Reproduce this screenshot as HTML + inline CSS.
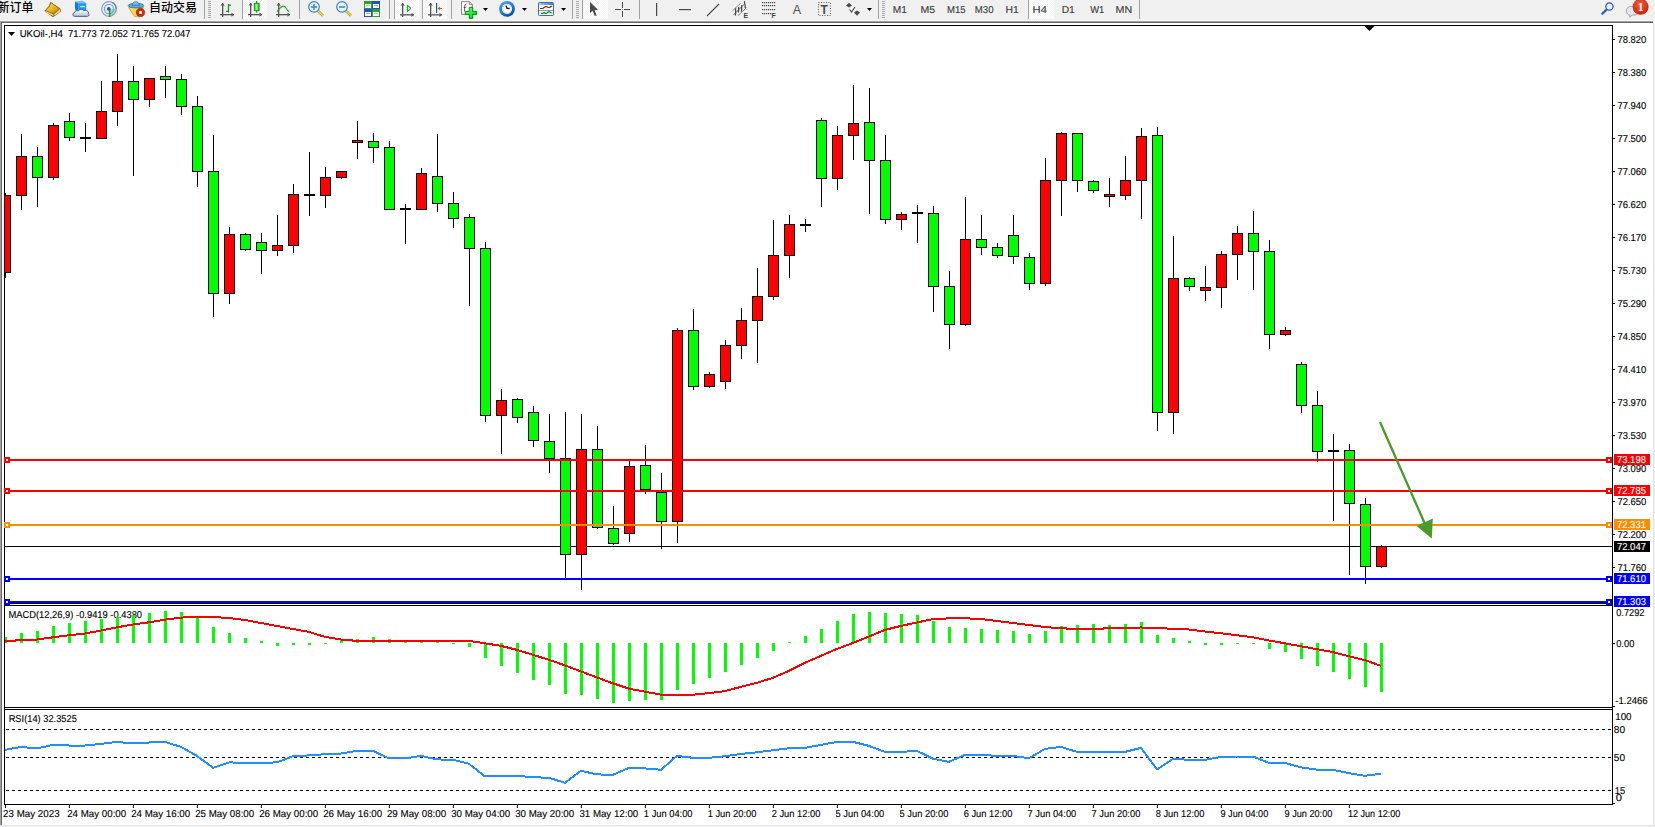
<!DOCTYPE html>
<html><head><meta charset="utf-8"><title>MT4 UKOil H4</title>
<style>
html,body{margin:0;padding:0;background:#F0F0F0;width:1655px;height:827px;overflow:hidden}
svg{display:block}
</style></head><body>
<svg width="1655" height="827" viewBox="0 0 1655 827">
<defs><pattern id="chk" width="2" height="2" patternUnits="userSpaceOnUse"><rect width="2" height="2" fill="#F4F4F4"/><rect width="1" height="1" fill="#FFFFFF"/><rect x="1" y="1" width="1" height="1" fill="#FFFFFF"/></pattern><linearGradient id="gold" x1="0" y1="0" x2="1" y2="1"><stop offset="0" stop-color="#FFE870"/><stop offset="0.5" stop-color="#E8B820"/><stop offset="1" stop-color="#B07810"/></linearGradient><linearGradient id="cgreen" x1="0" y1="0" x2="1" y2="0"><stop offset="0" stop-color="#30D030"/><stop offset="0.5" stop-color="#90FF90"/><stop offset="1" stop-color="#20B020"/></linearGradient><radialGradient id="badge" cx="0.45" cy="0.35" r="0.7"><stop offset="0" stop-color="#F06040"/><stop offset="1" stop-color="#D01800"/></radialGradient><radialGradient id="sig" cx="0.5" cy="0.5" r="0.5"><stop offset="0.2" stop-color="#2060D0"/><stop offset="1" stop-color="#60B060"/></radialGradient><linearGradient id="cloud" x1="0" y1="0" x2="0" y2="1"><stop offset="0" stop-color="#FFFFFF"/><stop offset="1" stop-color="#B8C4D8"/></linearGradient><linearGradient id="clockg" x1="0.2" y1="0" x2="0.8" y2="1"><stop offset="0" stop-color="#48A8F8"/><stop offset="1" stop-color="#0048A8"/></linearGradient><linearGradient id="tbar" x1="0" y1="0" x2="1" y2="0"><stop offset="0" stop-color="#9CCCF4"/><stop offset="1" stop-color="#3E7CC4"/></linearGradient><linearGradient id="plusg" x1="0" y1="0" x2="1" y2="1"><stop offset="0" stop-color="#90FF90"/><stop offset="0.6" stop-color="#10F030"/><stop offset="1" stop-color="#08C020"/></linearGradient></defs>
<rect x="243" y="0" width="24" height="19" fill="url(#chk)"/>
<rect x="395" y="0" width="24" height="19" fill="url(#chk)"/>
<rect x="423" y="0" width="24" height="19" fill="url(#chk)"/>
<rect x="583" y="0" width="25" height="19" fill="url(#chk)"/>
<rect x="1029" y="0" width="25" height="19" fill="url(#chk)"/>
<rect x="204" y="0" width="1" height="19" fill="#A0A0A0"/>
<rect x="242" y="0" width="1" height="19" fill="#A0A0A0"/>
<rect x="299" y="0" width="1" height="19" fill="#A0A0A0"/>
<rect x="389" y="0" width="1" height="19" fill="#A0A0A0"/>
<rect x="394" y="0" width="1" height="19" fill="#A0A0A0"/>
<rect x="422" y="0" width="1" height="19" fill="#A0A0A0"/>
<rect x="451" y="0" width="1" height="19" fill="#A0A0A0"/>
<rect x="572" y="0" width="1" height="19" fill="#A0A0A0"/>
<rect x="582" y="0" width="1" height="19" fill="#A0A0A0"/>
<rect x="639" y="0" width="1" height="19" fill="#A0A0A0"/>
<rect x="878" y="0" width="1" height="19" fill="#A0A0A0"/>
<rect x="1028" y="0" width="1" height="19" fill="#A0A0A0"/>
<rect x="1139" y="0" width="1" height="19" fill="#A0A0A0"/>
<rect x="208" y="1" width="3" height="1" fill="#A8A8A8"/>
<rect x="208" y="3" width="3" height="1" fill="#A8A8A8"/>
<rect x="208" y="5" width="3" height="1" fill="#A8A8A8"/>
<rect x="208" y="7" width="3" height="1" fill="#A8A8A8"/>
<rect x="208" y="9" width="3" height="1" fill="#A8A8A8"/>
<rect x="208" y="11" width="3" height="1" fill="#A8A8A8"/>
<rect x="208" y="13" width="3" height="1" fill="#A8A8A8"/>
<rect x="208" y="15" width="3" height="1" fill="#A8A8A8"/>
<rect x="208" y="17" width="3" height="1" fill="#A8A8A8"/>
<rect x="576" y="1" width="3" height="1" fill="#A8A8A8"/>
<rect x="576" y="3" width="3" height="1" fill="#A8A8A8"/>
<rect x="576" y="5" width="3" height="1" fill="#A8A8A8"/>
<rect x="576" y="7" width="3" height="1" fill="#A8A8A8"/>
<rect x="576" y="9" width="3" height="1" fill="#A8A8A8"/>
<rect x="576" y="11" width="3" height="1" fill="#A8A8A8"/>
<rect x="576" y="13" width="3" height="1" fill="#A8A8A8"/>
<rect x="576" y="15" width="3" height="1" fill="#A8A8A8"/>
<rect x="576" y="17" width="3" height="1" fill="#A8A8A8"/>
<rect x="882" y="1" width="3" height="1" fill="#A8A8A8"/>
<rect x="882" y="3" width="3" height="1" fill="#A8A8A8"/>
<rect x="882" y="5" width="3" height="1" fill="#A8A8A8"/>
<rect x="882" y="7" width="3" height="1" fill="#A8A8A8"/>
<rect x="882" y="9" width="3" height="1" fill="#A8A8A8"/>
<rect x="882" y="11" width="3" height="1" fill="#A8A8A8"/>
<rect x="882" y="13" width="3" height="1" fill="#A8A8A8"/>
<rect x="882" y="15" width="3" height="1" fill="#A8A8A8"/>
<rect x="882" y="17" width="3" height="1" fill="#A8A8A8"/>
<text x="-2.5" y="11.8" font-family="'Liberation Sans','Noto Sans CJK SC','WenQuanYi Zen Hei',sans-serif" font-size="12" font-weight="500" fill="#000">新订单</text>
<text x="149" y="11.8" font-family="'Liberation Sans','Noto Sans CJK SC','WenQuanYi Zen Hei',sans-serif" font-size="12" font-weight="500" fill="#000">自动交易</text>
<polygon points="50.5,1.8 60,8.3 61.5,11.2 53,17.2 44.3,11 48.8,6" fill="#9A6410"/>
<polygon points="51,3.2 59.2,8.8 53.6,13.6 46,10.3 49.8,6.4" fill="url(#gold)"/>
<polygon points="45.6,10.9 53.6,14.4 53.2,16 45.4,12" fill="#F0D890"/>
<polygon points="59.6,9.6 60.7,11.2 54.4,15.6 54.2,14.2" fill="#E8E0B0"/>
<polygon points="75,1.5 82.5,0.8 86.2,2.8 78.6,3.4" fill="#70C0FA"/>
<polygon points="75,1.5 78.6,3.4 78.6,11 75,9.6" fill="#1478D8"/>
<rect x="78.6" y="3.2" width="7.6" height="7.8" fill="#1C98F2"/>
<rect x="80.2" y="5.9" width="4.8" height="1.3" fill="#D8F0FF"/>
<path d="M74.6,16.3 C72.4,16.3 72.4,12.6 74.6,12.5 C74.8,10.6 77.2,10.1 78.3,11 C79.2,9 82.8,8.7 83.9,10.7 C86.2,9.6 89,11.3 88.4,13.6 C89.6,14.6 88.8,16.3 87.4,16.3 Z" fill="url(#cloud)" stroke="#3E5488" stroke-width="1"/>
<path d="M109,9 L116.6,9 A7.6,7.6 0 0 1 109,16.6 Z" fill="#A8DCA0" opacity="0.9"/>
<circle cx="109" cy="9" r="7.3" fill="none" stroke="#5A84D0" stroke-width="1.2" opacity="0.75"/>
<path d="M112.5,2.5 A7.3,7.3 0 0 1 116.3,9" fill="none" stroke="#3A7A8A" stroke-width="1.2" opacity="0.8"/>
<circle cx="109" cy="9" r="4.6" fill="none" stroke="#4E7CD0" stroke-width="1.2" opacity="0.7"/>
<circle cx="108.8" cy="8.9" r="1.9" fill="#2050C8"/>
<rect x="108.9" y="9" width="1.4" height="8" fill="#18A018"/>
<polygon points="128.6,7.4 143.6,7.4 138,16.6 134.6,16.6" fill="#F4DA50" stroke="#C8A020" stroke-width="0.8"/>
<ellipse cx="136" cy="5.6" rx="7.8" ry="2.3" fill="#5AAAE0" stroke="#2A7CA8" stroke-width="0.9"/>
<path d="M132.3,5.2 C132.3,0.6 139.3,0.6 139.3,5.2 Z" fill="#78C0F0" stroke="#2A7CA8" stroke-width="0.9"/>
<circle cx="140.5" cy="12.5" r="4.2" fill="#D82808" stroke="#A81000" stroke-width="0.6"/>
<rect x="139.1" y="11.2" width="2.9" height="2.7" fill="#FFFFFF"/>
<rect x="222" y="3" width="1.3" height="14" fill="#555"/>
<rect x="220" y="14" width="14" height="1.3" fill="#555"/>
<polygon points="220.5,5.5 222.65,3 224.8,5.5" fill="#555"/>
<polygon points="231.5,12.5 234,14.65 231.5,16.8" fill="#555"/>
<path d="M228.5,4 V12.6 M226,11.4 H228.5 M228.5,5.2 H231" stroke="#169016" stroke-width="1.2" fill="none"/>
<rect x="250" y="3" width="1.3" height="14" fill="#555"/>
<rect x="248" y="14" width="14" height="1.3" fill="#555"/>
<polygon points="248.5,5.5 250.65,3 252.8,5.5" fill="#555"/>
<polygon points="259.5,12.5 262,14.65 259.5,16.8" fill="#555"/>
<rect x="256" y="1" width="1.2" height="11.6" fill="#109010"/>
<rect x="254.3" y="3.3" width="4.8" height="7.4" fill="url(#cgreen)" stroke="#109010" stroke-width="0.9"/>
<rect x="278" y="3" width="1.3" height="14" fill="#555"/>
<rect x="276" y="14" width="14" height="1.3" fill="#555"/>
<polygon points="276.5,5.5 278.65,3 280.8,5.5" fill="#555"/>
<polygon points="287.5,12.5 290,14.65 287.5,16.8" fill="#555"/>
<path d="M277,11.6 Q283,3 286,8 T289,10.5" stroke="#2A9A2A" stroke-width="1.1" fill="none"/>
<line x1="317.5" y1="10.5" x2="323" y2="15.8" stroke="#B89010" stroke-width="2.6"/>
<line x1="317.5" y1="10.5" x2="323" y2="15.8" stroke="#F0E060" stroke-width="1.2"/>
<circle cx="314" cy="6.9" r="5.3" fill="#DDF2FF" stroke="#3A80D0" stroke-width="1.2"/>
<rect x="311" y="6.2" width="6" height="1.6" fill="#4A88B8"/>
<rect x="313.2" y="3.9" width="1.6" height="6" fill="#4A88B8"/>
<line x1="345.5" y1="10.5" x2="351" y2="15.8" stroke="#B89010" stroke-width="2.6"/>
<line x1="345.5" y1="10.5" x2="351" y2="15.8" stroke="#F0E060" stroke-width="1.2"/>
<circle cx="342" cy="6.9" r="5.3" fill="#DDF2FF" stroke="#3A80D0" stroke-width="1.2"/>
<rect x="339" y="6.2" width="6" height="1.6" fill="#4A88B8"/>
<rect x="364" y="1" width="8" height="8" fill="#30A020"/>
<rect x="365" y="4" width="6" height="4" fill="#FFFFFF"/>
<rect x="366" y="5" width="4" height="1" fill="#A0D090"/>
<rect x="372" y="1" width="8" height="8" fill="#2050D0"/>
<rect x="373" y="4" width="6" height="4" fill="#FFFFFF"/>
<rect x="374" y="5" width="4" height="1" fill="#90A8E0"/>
<rect x="364" y="9" width="8" height="8" fill="#2050D0"/>
<rect x="365" y="12" width="6" height="4" fill="#FFFFFF"/>
<rect x="366" y="13" width="4" height="1" fill="#90A8E0"/>
<rect x="372" y="9" width="8" height="8" fill="#30A020"/>
<rect x="373" y="12" width="6" height="4" fill="#FFFFFF"/>
<rect x="374" y="13" width="4" height="1" fill="#A0D090"/>
<rect x="402" y="3" width="1.3" height="14" fill="#555"/>
<rect x="400" y="14.2" width="14" height="1.3" fill="#555"/>
<polygon points="400.5,5.5 402.65,3 404.8,5.5" fill="#555"/>
<polygon points="411.5,12.7 414,14.85 411.5,17.0" fill="#555"/>
<polygon points="407.3,5.2 411,8.4 407.3,11.6" fill="#B0F0B0" stroke="#139013" stroke-width="1"/>
<rect x="430" y="3" width="1.3" height="14" fill="#555"/>
<rect x="428" y="14.2" width="14" height="1.3" fill="#555"/>
<polygon points="428.5,5.5 430.65,3 432.8,5.5" fill="#555"/>
<polygon points="439.5,12.7 442,14.85 439.5,17.0" fill="#555"/>
<rect x="436" y="3" width="1.2" height="10" fill="#1060A0"/>
<polygon points="437.6,8.4 440,6.5 440,7.9 442,7.9 442,8.9 440,8.9 440,10.3" fill="#E05010"/>
<path d="M461.6,1.7 H469.6 L472.3,4.4 V14.3 H461.6 Z" fill="#FFFFFF" stroke="#808080" stroke-width="1"/>
<path d="M469.3,1.7 V4.6 H472.3" fill="#E0E0E0" stroke="#707070" stroke-width="0.8"/>
<path d="M466.6,4 Q464.6,3.8 464.6,6.5 V11.5 M463.6,7.3 H466.2" stroke="#3A3420" stroke-width="0.8" fill="none"/>
<path d="M469.3,7.4 H472.7 V11.4 H476.7 V14.4 H472.7 V18.4 H469.3 V14.4 H465.3 V11.4 H469.3 Z" fill="url(#plusg)" stroke="#0A880A" stroke-width="1"/>
<polygon points="483,8 488,8 485.5,11" fill="#000"/>
<circle cx="507" cy="8.85" r="7.9" fill="url(#clockg)"/>
<circle cx="507" cy="8.85" r="5.1" fill="#FFFFFF"/>
<rect x="506.60" y="4.25" width="0.8" height="0.8" fill="#909090"/>
<rect x="508.70" y="4.81" width="0.8" height="0.8" fill="#909090"/>
<rect x="510.24" y="6.35" width="0.8" height="0.8" fill="#909090"/>
<rect x="510.80" y="8.45" width="0.8" height="0.8" fill="#909090"/>
<rect x="510.24" y="10.55" width="0.8" height="0.8" fill="#909090"/>
<rect x="508.70" y="12.09" width="0.8" height="0.8" fill="#909090"/>
<rect x="506.60" y="12.65" width="0.8" height="0.8" fill="#909090"/>
<rect x="504.50" y="12.09" width="0.8" height="0.8" fill="#909090"/>
<rect x="502.96" y="10.55" width="0.8" height="0.8" fill="#909090"/>
<rect x="502.40" y="8.45" width="0.8" height="0.8" fill="#909090"/>
<rect x="502.96" y="6.35" width="0.8" height="0.8" fill="#909090"/>
<rect x="504.50" y="4.81" width="0.8" height="0.8" fill="#909090"/>
<path d="M505.9,5.6 L507.1,8.4 L509.6,8.5" stroke="#000" stroke-width="1.3" fill="none"/>
<polygon points="522,8 527,8 524.5,11" fill="#000"/>
<rect x="538.5" y="2.5" width="15" height="13" rx="0.8" fill="#FFFFFF" stroke="#3472B8" stroke-width="1"/>
<rect x="539" y="3" width="14" height="2" fill="url(#tbar)"/>
<rect x="539" y="10" width="14" height="0.9" fill="#7A98B8"/>
<polyline points="540.1,8.5 542.8,8.5 544,7.5 546,6.4 548.6,7.5 549.7,7.5 551.1,6.4 552.2,6.4" stroke="#9A1800" stroke-width="1.2" fill="none"/>
<polyline points="541,13.4 543,13.4 544.3,12.4 545.6,13.4 546.6,13.4 547.6,12.4 549,11.4 550.6,12.4 551.6,13.4" stroke="#108010" stroke-width="1.2" fill="none"/>
<polygon points="561,8 566,8 563.5,11" fill="#000"/>
<polygon points="590,2 590,13 592.6,10.8 594.8,16 596.6,15.2 594.5,10.2 598,9.8" fill="#4A4A4A"/>
<rect x="622" y="2" width="1" height="6" fill="#4A4A4A"/><rect x="622" y="11" width="1" height="6" fill="#4A4A4A"/>
<rect x="615" y="9" width="6" height="1" fill="#4A4A4A"/><rect x="624" y="9" width="6" height="1" fill="#4A4A4A"/>
<rect x="622" y="9" width="1" height="1" fill="#888"/>
<rect x="656" y="3" width="1.2" height="13" fill="#4A4A4A"/>
<rect x="679" y="9" width="12" height="1.2" fill="#4A4A4A"/>
<line x1="707" y1="16" x2="719" y2="4" stroke="#4A4A4A" stroke-width="1.1"/>
<g stroke="#454545" fill="none">
<line x1="732.7" y1="10.6" x2="740.7" y2="3.2" stroke-width="0.9" stroke-dasharray="1.2,0.5"/>
<line x1="737.9" y1="15.7" x2="746.9" y2="7.3" stroke-width="0.9" stroke-dasharray="1.2,0.5"/>
<line x1="733.5" y1="14.8" x2="744" y2="4.5" stroke-width="0.8"/>
<path d="M735.8,8.3 C735.2,11 736.2,12.5 735.3,15.5 M738.8,7 C738.2,9 739.2,10.5 738.2,12.6 M741.8,5.2 C741.2,7.5 742.2,9.5 741.3,11.8 M744.5,1.2 C744.2,3.5 745.6,5.5 745.2,8.2" stroke-width="1.2"/>
</g>
<text x="743.6" y="18.2" font-family="'Liberation Sans',sans-serif" font-size="7" font-weight="bold" fill="#404040">E</text>
<rect x="762" y="2" width="1.2" height="1.2" fill="#404040"/>
<rect x="764" y="2" width="1.2" height="1.2" fill="#404040"/>
<rect x="766" y="2" width="1.2" height="1.2" fill="#404040"/>
<rect x="768" y="2" width="1.2" height="1.2" fill="#404040"/>
<rect x="770" y="2" width="1.2" height="1.2" fill="#404040"/>
<rect x="772" y="2" width="1.2" height="1.2" fill="#404040"/>
<rect x="774" y="2" width="1.2" height="1.2" fill="#404040"/>
<rect x="762" y="5" width="1.2" height="1.2" fill="#404040"/>
<rect x="764" y="5" width="1.2" height="1.2" fill="#404040"/>
<rect x="766" y="5" width="1.2" height="1.2" fill="#404040"/>
<rect x="768" y="5" width="1.2" height="1.2" fill="#404040"/>
<rect x="770" y="5" width="1.2" height="1.2" fill="#404040"/>
<rect x="772" y="5" width="1.2" height="1.2" fill="#404040"/>
<rect x="774" y="5" width="1.2" height="1.2" fill="#404040"/>
<rect x="762" y="9" width="1.2" height="1.2" fill="#404040"/>
<rect x="764" y="9" width="1.2" height="1.2" fill="#404040"/>
<rect x="766" y="9" width="1.2" height="1.2" fill="#404040"/>
<rect x="768" y="9" width="1.2" height="1.2" fill="#404040"/>
<rect x="770" y="9" width="1.2" height="1.2" fill="#404040"/>
<rect x="772" y="9" width="1.2" height="1.2" fill="#404040"/>
<rect x="774" y="9" width="1.2" height="1.2" fill="#404040"/>
<rect x="762" y="13" width="1.2" height="1.2" fill="#404040"/>
<rect x="764" y="13" width="1.2" height="1.2" fill="#404040"/>
<rect x="766" y="13" width="1.2" height="1.2" fill="#404040"/>
<rect x="768" y="13" width="1.2" height="1.2" fill="#404040"/>
<rect x="770" y="13" width="1.2" height="1.2" fill="#404040"/>
<text x="771.6" y="18.2" font-family="'Liberation Sans',sans-serif" font-size="7" font-weight="bold" fill="#404040">F</text>
<text x="792.8" y="14" font-family="'Liberation Sans',sans-serif" font-size="12.5" fill="#505050">A</text>
<rect x="818.5" y="2.5" width="12" height="13" fill="none" stroke="#4A4A4A" stroke-width="0.9" stroke-dasharray="1,1.5"/>
<text x="820.5" y="13.8" font-family="'Liberation Sans',sans-serif" font-size="12" font-weight="bold" fill="#4A4A4A">T</text>
<polygon points="846,5.5 849,2.8 852,5.5 849,7.5" fill="#4A4A4A"/>
<polygon points="854,12.5 857,10.5 860,12.5 857,15.8" fill="#4A4A4A"/>
<polyline points="849.5,9.5 851.5,12 855,7" stroke="#4A4A4A" stroke-width="1.1" fill="none"/>
<polygon points="867,8 872,8 869.5,11" fill="#000"/>
<line x1="1606.5" y1="9.8" x2="1602.3" y2="13.8" stroke="#2058C8" stroke-width="2.2" stroke-linecap="round"/>
<circle cx="1609.4" cy="6.5" r="3.6" fill="#F4F6FF" stroke="#2060D0" stroke-width="1.3"/>
<path d="M1631,6.3 C1625,6.3 1625,15 1630,15 L1629.5,17.3 L1632.5,15 L1635,15 C1640,15 1640,6.3 1635,6.3 Z" fill="#E4E6EE" stroke="#A0A0A0" stroke-width="0.9"/>
<circle cx="1640.6" cy="6.8" r="8" fill="url(#badge)"/>
<text x="1640.5" y="11" font-family="'Liberation Serif',serif" font-size="11.5" font-weight="bold" fill="#FFFFFF" text-anchor="middle">1</text>
<rect x="0" y="20" width="1655" height="1" fill="#F8F8F8"/>
<rect x="0" y="21" width="1653" height="1" fill="#A0A0A0"/>
<rect x="0" y="22" width="1653" height="1" fill="#696969"/>
<rect x="0" y="21" width="1" height="805" fill="#A0A0A0"/>
<rect x="1" y="22" width="1" height="804" fill="#696969"/>
<rect x="2" y="23" width="1651" height="802" fill="#FFFFFF"/>
<rect x="1653" y="21" width="1" height="805" fill="#E3E3E3"/>
<rect x="0" y="825" width="1654" height="1" fill="#E3E3E3"/>
<g shape-rendering="crispEdges">
<rect x="4" y="25" width="1" height="780" fill="#000"/>
<rect x="1612" y="25" width="1" height="780" fill="#000"/>
<rect x="4" y="25" width="1609" height="1" fill="#000"/>
<rect x="4" y="603" width="1609" height="1" fill="#000"/>
<rect x="4" y="605" width="1609" height="1" fill="#000"/>
<rect x="4" y="707" width="1609" height="1" fill="#000"/>
<rect x="4" y="709" width="1609" height="1" fill="#000"/>
<rect x="4" y="804" width="1609" height="1" fill="#000"/>
<rect x="1613" y="39" width="2" height="1" fill="#000"/>
<rect x="1613" y="72" width="2" height="1" fill="#000"/>
<rect x="1613" y="105" width="2" height="1" fill="#000"/>
<rect x="1613" y="138" width="2" height="1" fill="#000"/>
<rect x="1613" y="171" width="2" height="1" fill="#000"/>
<rect x="1613" y="204" width="2" height="1" fill="#000"/>
<rect x="1613" y="237" width="2" height="1" fill="#000"/>
<rect x="1613" y="270" width="2" height="1" fill="#000"/>
<rect x="1613" y="303" width="2" height="1" fill="#000"/>
<rect x="1613" y="336" width="2" height="1" fill="#000"/>
<rect x="1613" y="369" width="2" height="1" fill="#000"/>
<rect x="1613" y="402" width="2" height="1" fill="#000"/>
<rect x="1613" y="435" width="2" height="1" fill="#000"/>
<rect x="1613" y="468" width="2" height="1" fill="#000"/>
<rect x="1613" y="501" width="2" height="1" fill="#000"/>
<rect x="1613" y="534" width="2" height="1" fill="#000"/>
<rect x="1613" y="567" width="2" height="1" fill="#000"/>
<rect x="1613" y="643" width="2" height="1" fill="#000"/>
<rect x="1613" y="706" width="2" height="1" fill="#000"/>
<rect x="1613" y="803" width="2" height="1" fill="#000"/>
<rect x="5" y="805" width="1" height="3" fill="#000"/>
<rect x="69" y="805" width="1" height="3" fill="#000"/>
<rect x="133" y="805" width="1" height="3" fill="#000"/>
<rect x="197" y="805" width="1" height="3" fill="#000"/>
<rect x="261" y="805" width="1" height="3" fill="#000"/>
<rect x="325" y="805" width="1" height="3" fill="#000"/>
<rect x="389" y="805" width="1" height="3" fill="#000"/>
<rect x="453" y="805" width="1" height="3" fill="#000"/>
<rect x="517" y="805" width="1" height="3" fill="#000"/>
<rect x="581" y="805" width="1" height="3" fill="#000"/>
<rect x="645" y="805" width="1" height="3" fill="#000"/>
<rect x="709" y="805" width="1" height="3" fill="#000"/>
<rect x="773" y="805" width="1" height="3" fill="#000"/>
<rect x="837" y="805" width="1" height="3" fill="#000"/>
<rect x="901" y="805" width="1" height="3" fill="#000"/>
<rect x="965" y="805" width="1" height="3" fill="#000"/>
<rect x="1029" y="805" width="1" height="3" fill="#000"/>
<rect x="1093" y="805" width="1" height="3" fill="#000"/>
<rect x="1157" y="805" width="1" height="3" fill="#000"/>
<rect x="1221" y="805" width="1" height="3" fill="#000"/>
<rect x="1285" y="805" width="1" height="3" fill="#000"/>
<rect x="1349" y="805" width="1" height="3" fill="#000"/>
</g>
<defs><clipPath id="cm"><rect x="5" y="26" width="1607" height="577"/></clipPath><clipPath id="cmacd"><rect x="5" y="606" width="1607" height="101"/></clipPath><clipPath id="crsi"><rect x="5" y="710" width="1607" height="94"/></clipPath></defs>
<g clip-path="url(#cm)" shape-rendering="crispEdges">
<rect x="5" y="546" width="1607" height="1" fill="#000"/>
<rect x="5" y="193" width="1" height="85" fill="#000"/>
<rect x="0" y="195" width="11" height="78" fill="#000"/>
<rect x="1" y="196" width="9" height="76" fill="#FF0000"/>
<rect x="21" y="134" width="1" height="76" fill="#000"/>
<rect x="16" y="156" width="11" height="40" fill="#000"/>
<rect x="17" y="157" width="9" height="38" fill="#FF0000"/>
<rect x="37" y="147" width="1" height="60" fill="#000"/>
<rect x="32" y="156" width="11" height="22" fill="#000"/>
<rect x="33" y="157" width="9" height="20" fill="#00FF00"/>
<rect x="53" y="123" width="1" height="57" fill="#000"/>
<rect x="48" y="125" width="11" height="53" fill="#000"/>
<rect x="49" y="126" width="9" height="51" fill="#FF0000"/>
<rect x="69" y="113" width="1" height="28" fill="#000"/>
<rect x="64" y="121" width="11" height="17" fill="#000"/>
<rect x="65" y="122" width="9" height="15" fill="#00FF00"/>
<rect x="85" y="123" width="1" height="29" fill="#000"/>
<rect x="80" y="137" width="11" height="2" fill="#000"/>
<rect x="101" y="81" width="1" height="58" fill="#000"/>
<rect x="96" y="111" width="11" height="28" fill="#000"/>
<rect x="97" y="112" width="9" height="26" fill="#FF0000"/>
<rect x="117" y="54" width="1" height="72" fill="#000"/>
<rect x="112" y="81" width="11" height="31" fill="#000"/>
<rect x="113" y="82" width="9" height="29" fill="#FF0000"/>
<rect x="133" y="66" width="1" height="110" fill="#000"/>
<rect x="128" y="81" width="11" height="19" fill="#000"/>
<rect x="129" y="82" width="9" height="17" fill="#00FF00"/>
<rect x="149" y="78" width="1" height="29" fill="#000"/>
<rect x="144" y="78" width="11" height="22" fill="#000"/>
<rect x="145" y="79" width="9" height="20" fill="#FF0000"/>
<rect x="165" y="66" width="1" height="32" fill="#000"/>
<rect x="160" y="76" width="11" height="4" fill="#000"/>
<rect x="161" y="77" width="9" height="2" fill="#00FF00"/>
<rect x="181" y="74" width="1" height="41" fill="#000"/>
<rect x="176" y="79" width="11" height="28" fill="#000"/>
<rect x="177" y="80" width="9" height="26" fill="#00FF00"/>
<rect x="197" y="96" width="1" height="91" fill="#000"/>
<rect x="192" y="106" width="11" height="66" fill="#000"/>
<rect x="193" y="107" width="9" height="64" fill="#00FF00"/>
<rect x="213" y="135" width="1" height="182" fill="#000"/>
<rect x="208" y="171" width="11" height="123" fill="#000"/>
<rect x="209" y="172" width="9" height="121" fill="#00FF00"/>
<rect x="229" y="227" width="1" height="77" fill="#000"/>
<rect x="224" y="234" width="11" height="60" fill="#000"/>
<rect x="225" y="235" width="9" height="58" fill="#FF0000"/>
<rect x="245" y="233" width="1" height="18" fill="#000"/>
<rect x="240" y="234" width="11" height="16" fill="#000"/>
<rect x="241" y="235" width="9" height="14" fill="#00FF00"/>
<rect x="261" y="233" width="1" height="41" fill="#000"/>
<rect x="256" y="242" width="11" height="9" fill="#000"/>
<rect x="257" y="243" width="9" height="7" fill="#00FF00"/>
<rect x="277" y="215" width="1" height="41" fill="#000"/>
<rect x="272" y="245" width="11" height="6" fill="#000"/>
<rect x="273" y="246" width="9" height="4" fill="#FF0000"/>
<rect x="293" y="184" width="1" height="69" fill="#000"/>
<rect x="288" y="194" width="11" height="52" fill="#000"/>
<rect x="289" y="195" width="9" height="50" fill="#FF0000"/>
<rect x="309" y="152" width="1" height="64" fill="#000"/>
<rect x="304" y="194" width="11" height="2" fill="#000"/>
<rect x="325" y="167" width="1" height="41" fill="#000"/>
<rect x="320" y="177" width="11" height="19" fill="#000"/>
<rect x="321" y="178" width="9" height="17" fill="#FF0000"/>
<rect x="341" y="171" width="1" height="8" fill="#000"/>
<rect x="336" y="171" width="11" height="7" fill="#000"/>
<rect x="337" y="172" width="9" height="5" fill="#FF0000"/>
<rect x="357" y="121" width="1" height="38" fill="#000"/>
<rect x="352" y="140" width="11" height="3" fill="#000"/>
<rect x="353" y="141" width="9" height="1" fill="#FF0000"/>
<rect x="373" y="133" width="1" height="30" fill="#000"/>
<rect x="368" y="141" width="11" height="7" fill="#000"/>
<rect x="369" y="142" width="9" height="5" fill="#00FF00"/>
<rect x="389" y="141" width="1" height="69" fill="#000"/>
<rect x="384" y="147" width="11" height="63" fill="#000"/>
<rect x="385" y="148" width="9" height="61" fill="#00FF00"/>
<rect x="405" y="204" width="1" height="40" fill="#000"/>
<rect x="400" y="208" width="11" height="2" fill="#000"/>
<rect x="421" y="168" width="1" height="42" fill="#000"/>
<rect x="416" y="173" width="11" height="37" fill="#000"/>
<rect x="417" y="174" width="9" height="35" fill="#FF0000"/>
<rect x="437" y="134" width="1" height="78" fill="#000"/>
<rect x="432" y="176" width="11" height="28" fill="#000"/>
<rect x="433" y="177" width="9" height="26" fill="#00FF00"/>
<rect x="453" y="192" width="1" height="36" fill="#000"/>
<rect x="448" y="203" width="11" height="16" fill="#000"/>
<rect x="449" y="204" width="9" height="14" fill="#00FF00"/>
<rect x="469" y="214" width="1" height="92" fill="#000"/>
<rect x="464" y="217" width="11" height="32" fill="#000"/>
<rect x="465" y="218" width="9" height="30" fill="#00FF00"/>
<rect x="485" y="242" width="1" height="180" fill="#000"/>
<rect x="480" y="248" width="11" height="168" fill="#000"/>
<rect x="481" y="249" width="9" height="166" fill="#00FF00"/>
<rect x="501" y="389" width="1" height="65" fill="#000"/>
<rect x="496" y="400" width="11" height="16" fill="#000"/>
<rect x="497" y="401" width="9" height="14" fill="#FF0000"/>
<rect x="517" y="398" width="1" height="25" fill="#000"/>
<rect x="512" y="399" width="11" height="19" fill="#000"/>
<rect x="513" y="400" width="9" height="17" fill="#00FF00"/>
<rect x="533" y="406" width="1" height="41" fill="#000"/>
<rect x="528" y="412" width="11" height="29" fill="#000"/>
<rect x="529" y="413" width="9" height="27" fill="#00FF00"/>
<rect x="549" y="414" width="1" height="59" fill="#000"/>
<rect x="544" y="441" width="11" height="18" fill="#000"/>
<rect x="545" y="442" width="9" height="16" fill="#00FF00"/>
<rect x="565" y="412" width="1" height="166" fill="#000"/>
<rect x="560" y="458" width="11" height="97" fill="#000"/>
<rect x="561" y="459" width="9" height="95" fill="#00FF00"/>
<rect x="581" y="414" width="1" height="176" fill="#000"/>
<rect x="576" y="449" width="11" height="106" fill="#000"/>
<rect x="577" y="450" width="9" height="104" fill="#FF0000"/>
<rect x="597" y="426" width="1" height="103" fill="#000"/>
<rect x="592" y="449" width="11" height="79" fill="#000"/>
<rect x="593" y="450" width="9" height="77" fill="#00FF00"/>
<rect x="613" y="506" width="1" height="39" fill="#000"/>
<rect x="608" y="528" width="11" height="16" fill="#000"/>
<rect x="609" y="529" width="9" height="14" fill="#00FF00"/>
<rect x="629" y="461" width="1" height="81" fill="#000"/>
<rect x="624" y="466" width="11" height="68" fill="#000"/>
<rect x="625" y="467" width="9" height="66" fill="#FF0000"/>
<rect x="645" y="445" width="1" height="49" fill="#000"/>
<rect x="640" y="465" width="11" height="25" fill="#000"/>
<rect x="641" y="466" width="9" height="23" fill="#00FF00"/>
<rect x="661" y="473" width="1" height="76" fill="#000"/>
<rect x="656" y="492" width="11" height="30" fill="#000"/>
<rect x="657" y="493" width="9" height="28" fill="#00FF00"/>
<rect x="677" y="328" width="1" height="215" fill="#000"/>
<rect x="672" y="330" width="11" height="192" fill="#000"/>
<rect x="673" y="331" width="9" height="190" fill="#FF0000"/>
<rect x="693" y="309" width="1" height="81" fill="#000"/>
<rect x="688" y="330" width="11" height="57" fill="#000"/>
<rect x="689" y="331" width="9" height="55" fill="#00FF00"/>
<rect x="709" y="372" width="1" height="16" fill="#000"/>
<rect x="704" y="374" width="11" height="13" fill="#000"/>
<rect x="705" y="375" width="9" height="11" fill="#FF0000"/>
<rect x="725" y="340" width="1" height="49" fill="#000"/>
<rect x="720" y="345" width="11" height="37" fill="#000"/>
<rect x="721" y="346" width="9" height="35" fill="#FF0000"/>
<rect x="741" y="308" width="1" height="51" fill="#000"/>
<rect x="736" y="320" width="11" height="26" fill="#000"/>
<rect x="737" y="321" width="9" height="24" fill="#FF0000"/>
<rect x="757" y="268" width="1" height="95" fill="#000"/>
<rect x="752" y="296" width="11" height="25" fill="#000"/>
<rect x="753" y="297" width="9" height="23" fill="#FF0000"/>
<rect x="773" y="220" width="1" height="80" fill="#000"/>
<rect x="768" y="255" width="11" height="42" fill="#000"/>
<rect x="769" y="256" width="9" height="40" fill="#FF0000"/>
<rect x="789" y="215" width="1" height="63" fill="#000"/>
<rect x="784" y="224" width="11" height="32" fill="#000"/>
<rect x="785" y="225" width="9" height="30" fill="#FF0000"/>
<rect x="805" y="219" width="1" height="13" fill="#000"/>
<rect x="800" y="224" width="11" height="2" fill="#000"/>
<rect x="821" y="118" width="1" height="89" fill="#000"/>
<rect x="816" y="120" width="11" height="59" fill="#000"/>
<rect x="817" y="121" width="9" height="57" fill="#00FF00"/>
<rect x="837" y="126" width="1" height="64" fill="#000"/>
<rect x="832" y="135" width="11" height="44" fill="#000"/>
<rect x="833" y="136" width="9" height="42" fill="#FF0000"/>
<rect x="853" y="85" width="1" height="75" fill="#000"/>
<rect x="848" y="123" width="11" height="13" fill="#000"/>
<rect x="849" y="124" width="9" height="11" fill="#FF0000"/>
<rect x="869" y="88" width="1" height="126" fill="#000"/>
<rect x="864" y="122" width="11" height="39" fill="#000"/>
<rect x="865" y="123" width="9" height="37" fill="#00FF00"/>
<rect x="885" y="135" width="1" height="89" fill="#000"/>
<rect x="880" y="160" width="11" height="60" fill="#000"/>
<rect x="881" y="161" width="9" height="58" fill="#00FF00"/>
<rect x="901" y="212" width="1" height="18" fill="#000"/>
<rect x="896" y="214" width="11" height="6" fill="#000"/>
<rect x="897" y="215" width="9" height="4" fill="#FF0000"/>
<rect x="917" y="205" width="1" height="38" fill="#000"/>
<rect x="912" y="212" width="11" height="2" fill="#000"/>
<rect x="933" y="206" width="1" height="106" fill="#000"/>
<rect x="928" y="213" width="11" height="74" fill="#000"/>
<rect x="929" y="214" width="9" height="72" fill="#00FF00"/>
<rect x="949" y="271" width="1" height="78" fill="#000"/>
<rect x="944" y="286" width="11" height="39" fill="#000"/>
<rect x="945" y="287" width="9" height="37" fill="#00FF00"/>
<rect x="965" y="197" width="1" height="129" fill="#000"/>
<rect x="960" y="239" width="11" height="86" fill="#000"/>
<rect x="961" y="240" width="9" height="84" fill="#FF0000"/>
<rect x="981" y="215" width="1" height="40" fill="#000"/>
<rect x="976" y="239" width="11" height="9" fill="#000"/>
<rect x="977" y="240" width="9" height="7" fill="#00FF00"/>
<rect x="997" y="243" width="1" height="15" fill="#000"/>
<rect x="992" y="247" width="11" height="9" fill="#000"/>
<rect x="993" y="248" width="9" height="7" fill="#00FF00"/>
<rect x="1013" y="215" width="1" height="49" fill="#000"/>
<rect x="1008" y="235" width="11" height="22" fill="#000"/>
<rect x="1009" y="236" width="9" height="20" fill="#00FF00"/>
<rect x="1029" y="253" width="1" height="37" fill="#000"/>
<rect x="1024" y="257" width="11" height="27" fill="#000"/>
<rect x="1025" y="258" width="9" height="25" fill="#00FF00"/>
<rect x="1045" y="158" width="1" height="128" fill="#000"/>
<rect x="1040" y="180" width="11" height="104" fill="#000"/>
<rect x="1041" y="181" width="9" height="102" fill="#FF0000"/>
<rect x="1061" y="132" width="1" height="84" fill="#000"/>
<rect x="1056" y="133" width="11" height="48" fill="#000"/>
<rect x="1057" y="134" width="9" height="46" fill="#FF0000"/>
<rect x="1077" y="133" width="1" height="59" fill="#000"/>
<rect x="1072" y="133" width="11" height="48" fill="#000"/>
<rect x="1073" y="134" width="9" height="46" fill="#00FF00"/>
<rect x="1093" y="180" width="1" height="13" fill="#000"/>
<rect x="1088" y="181" width="11" height="10" fill="#000"/>
<rect x="1089" y="182" width="9" height="8" fill="#00FF00"/>
<rect x="1109" y="178" width="1" height="29" fill="#000"/>
<rect x="1104" y="194" width="11" height="3" fill="#000"/>
<rect x="1105" y="195" width="9" height="1" fill="#FF0000"/>
<rect x="1125" y="156" width="1" height="44" fill="#000"/>
<rect x="1120" y="180" width="11" height="16" fill="#000"/>
<rect x="1121" y="181" width="9" height="14" fill="#FF0000"/>
<rect x="1141" y="128" width="1" height="91" fill="#000"/>
<rect x="1136" y="136" width="11" height="45" fill="#000"/>
<rect x="1137" y="137" width="9" height="43" fill="#FF0000"/>
<rect x="1157" y="127" width="1" height="304" fill="#000"/>
<rect x="1152" y="135" width="11" height="278" fill="#000"/>
<rect x="1153" y="136" width="9" height="276" fill="#00FF00"/>
<rect x="1173" y="236" width="1" height="198" fill="#000"/>
<rect x="1168" y="278" width="11" height="135" fill="#000"/>
<rect x="1169" y="279" width="9" height="133" fill="#FF0000"/>
<rect x="1189" y="277" width="1" height="14" fill="#000"/>
<rect x="1184" y="278" width="11" height="9" fill="#000"/>
<rect x="1185" y="279" width="9" height="7" fill="#00FF00"/>
<rect x="1205" y="266" width="1" height="35" fill="#000"/>
<rect x="1200" y="287" width="11" height="4" fill="#000"/>
<rect x="1201" y="288" width="9" height="2" fill="#FF0000"/>
<rect x="1221" y="251" width="1" height="57" fill="#000"/>
<rect x="1216" y="254" width="11" height="34" fill="#000"/>
<rect x="1217" y="255" width="9" height="32" fill="#FF0000"/>
<rect x="1237" y="226" width="1" height="54" fill="#000"/>
<rect x="1232" y="233" width="11" height="22" fill="#000"/>
<rect x="1233" y="234" width="9" height="20" fill="#FF0000"/>
<rect x="1253" y="211" width="1" height="79" fill="#000"/>
<rect x="1248" y="233" width="11" height="19" fill="#000"/>
<rect x="1249" y="234" width="9" height="17" fill="#00FF00"/>
<rect x="1269" y="240" width="1" height="109" fill="#000"/>
<rect x="1264" y="251" width="11" height="84" fill="#000"/>
<rect x="1265" y="252" width="9" height="82" fill="#00FF00"/>
<rect x="1285" y="327" width="1" height="9" fill="#000"/>
<rect x="1280" y="330" width="11" height="5" fill="#000"/>
<rect x="1281" y="331" width="9" height="3" fill="#FF0000"/>
<rect x="1301" y="362" width="1" height="51" fill="#000"/>
<rect x="1296" y="364" width="11" height="42" fill="#000"/>
<rect x="1297" y="365" width="9" height="40" fill="#00FF00"/>
<rect x="1317" y="391" width="1" height="71" fill="#000"/>
<rect x="1312" y="405" width="11" height="47" fill="#000"/>
<rect x="1313" y="406" width="9" height="45" fill="#00FF00"/>
<rect x="1333" y="434" width="1" height="87" fill="#000"/>
<rect x="1328" y="450" width="11" height="2" fill="#000"/>
<rect x="1349" y="444" width="1" height="131" fill="#000"/>
<rect x="1344" y="450" width="11" height="54" fill="#000"/>
<rect x="1345" y="451" width="9" height="52" fill="#00FF00"/>
<rect x="1365" y="498" width="1" height="86" fill="#000"/>
<rect x="1360" y="504" width="11" height="63" fill="#000"/>
<rect x="1361" y="505" width="9" height="61" fill="#00FF00"/>
<rect x="1381" y="545" width="1" height="23" fill="#000"/>
<rect x="1376" y="546" width="11" height="21" fill="#000"/>
<rect x="1377" y="547" width="9" height="19" fill="#FF0000"/>
<rect x="5" y="459" width="1607" height="2" fill="#FF0000"/>
<rect x="5" y="490" width="1607" height="2" fill="#FF0000"/>
<rect x="5" y="524" width="1607" height="2" fill="#FF8C00"/>
<rect x="5" y="578" width="1607" height="2" fill="#0000FF"/>
<rect x="5" y="601" width="1607" height="2" fill="#0000FF"/>
</g>
<g shape-rendering="crispEdges">
<rect x="4" y="457" width="6" height="6" fill="#FF0000"/>
<rect x="6" y="459" width="2" height="2" fill="#FFFFFF"/>
<rect x="1606" y="457" width="6" height="6" fill="#FF0000"/>
<rect x="1608" y="459" width="2" height="2" fill="#FFFFFF"/>
<rect x="4" y="488" width="6" height="6" fill="#FF0000"/>
<rect x="6" y="490" width="2" height="2" fill="#FFFFFF"/>
<rect x="1606" y="488" width="6" height="6" fill="#FF0000"/>
<rect x="1608" y="490" width="2" height="2" fill="#FFFFFF"/>
<rect x="4" y="522" width="6" height="6" fill="#FF8C00"/>
<rect x="6" y="524" width="2" height="2" fill="#FFFFFF"/>
<rect x="1606" y="522" width="6" height="6" fill="#FF8C00"/>
<rect x="1608" y="524" width="2" height="2" fill="#FFFFFF"/>
<rect x="4" y="576" width="6" height="6" fill="#0000FF"/>
<rect x="6" y="578" width="2" height="2" fill="#FFFFFF"/>
<rect x="1606" y="576" width="6" height="6" fill="#0000FF"/>
<rect x="1608" y="578" width="2" height="2" fill="#FFFFFF"/>
<rect x="4" y="599" width="6" height="6" fill="#0000FF"/>
<rect x="6" y="601" width="2" height="2" fill="#FFFFFF"/>
<rect x="1606" y="599" width="6" height="6" fill="#0000FF"/>
<rect x="1608" y="601" width="2" height="2" fill="#FFFFFF"/>
</g>
<polygon points="1364.5,26 1374.5,26 1369.5,31" fill="#000"/>
<g fill="#4C9A2A" stroke="none">
<line x1="1380" y1="422" x2="1425" y2="524" stroke="#4C9A2A" stroke-width="2.3"/>
<polygon points="1416.5,526 1432.8,518.5 1431.8,538.5"/>
</g>
<g font-family="'Liberation Sans', Arial, sans-serif" text-rendering="geometricPrecision"><text x="8.46" y="618" font-size="10" fill="#000" stroke="#000" stroke-width="0.12" textLength="133.60" lengthAdjust="spacingAndGlyphs">MACD(12,26,9) -0.9419 -0.4380</text></g>
<g clip-path="url(#cmacd)" shape-rendering="crispEdges">
<rect x="4" y="637" width="3" height="6" fill="#00FF00"/>
<rect x="20" y="633" width="3" height="10" fill="#00FF00"/>
<rect x="36" y="631" width="3" height="12" fill="#00FF00"/>
<rect x="52" y="626" width="3" height="17" fill="#00FF00"/>
<rect x="68" y="623" width="3" height="20" fill="#00FF00"/>
<rect x="84" y="621" width="3" height="22" fill="#00FF00"/>
<rect x="100" y="619" width="3" height="24" fill="#00FF00"/>
<rect x="116" y="617" width="3" height="26" fill="#00FF00"/>
<rect x="132" y="615" width="3" height="28" fill="#00FF00"/>
<rect x="148" y="613" width="3" height="30" fill="#00FF00"/>
<rect x="164" y="611" width="3" height="32" fill="#00FF00"/>
<rect x="180" y="612" width="3" height="31" fill="#00FF00"/>
<rect x="196" y="617" width="3" height="26" fill="#00FF00"/>
<rect x="212" y="627" width="3" height="16" fill="#00FF00"/>
<rect x="228" y="633" width="3" height="10" fill="#00FF00"/>
<rect x="244" y="638" width="3" height="5" fill="#00FF00"/>
<rect x="260" y="641" width="3" height="2" fill="#00FF00"/>
<rect x="276" y="643" width="3" height="3" fill="#00FF00"/>
<rect x="292" y="643" width="3" height="2" fill="#00FF00"/>
<rect x="308" y="643" width="3" height="2" fill="#00FF00"/>
<rect x="324" y="643" width="3" height="1" fill="#00FF00"/>
<rect x="340" y="640" width="3" height="3" fill="#00FF00"/>
<rect x="356" y="639" width="3" height="4" fill="#00FF00"/>
<rect x="372" y="637" width="3" height="6" fill="#00FF00"/>
<rect x="388" y="639" width="3" height="4" fill="#00FF00"/>
<rect x="404" y="641" width="3" height="2" fill="#00FF00"/>
<rect x="420" y="641" width="3" height="2" fill="#00FF00"/>
<rect x="436" y="641" width="3" height="2" fill="#00FF00"/>
<rect x="452" y="643" width="3" height="1" fill="#00FF00"/>
<rect x="468" y="643" width="3" height="4" fill="#00FF00"/>
<rect x="484" y="643" width="3" height="15" fill="#00FF00"/>
<rect x="500" y="643" width="3" height="23" fill="#00FF00"/>
<rect x="516" y="643" width="3" height="30" fill="#00FF00"/>
<rect x="532" y="643" width="3" height="37" fill="#00FF00"/>
<rect x="548" y="643" width="3" height="42" fill="#00FF00"/>
<rect x="564" y="643" width="3" height="51" fill="#00FF00"/>
<rect x="580" y="643" width="3" height="52" fill="#00FF00"/>
<rect x="596" y="643" width="3" height="56" fill="#00FF00"/>
<rect x="612" y="643" width="3" height="60" fill="#00FF00"/>
<rect x="628" y="643" width="3" height="58" fill="#00FF00"/>
<rect x="644" y="643" width="3" height="57" fill="#00FF00"/>
<rect x="660" y="643" width="3" height="57" fill="#00FF00"/>
<rect x="676" y="643" width="3" height="47" fill="#00FF00"/>
<rect x="692" y="643" width="3" height="41" fill="#00FF00"/>
<rect x="708" y="643" width="3" height="35" fill="#00FF00"/>
<rect x="724" y="643" width="3" height="29" fill="#00FF00"/>
<rect x="740" y="643" width="3" height="22" fill="#00FF00"/>
<rect x="756" y="643" width="3" height="15" fill="#00FF00"/>
<rect x="772" y="643" width="3" height="8" fill="#00FF00"/>
<rect x="788" y="642" width="3" height="1" fill="#00FF00"/>
<rect x="804" y="636" width="3" height="7" fill="#00FF00"/>
<rect x="820" y="629" width="3" height="14" fill="#00FF00"/>
<rect x="836" y="621" width="3" height="22" fill="#00FF00"/>
<rect x="852" y="614" width="3" height="29" fill="#00FF00"/>
<rect x="868" y="612" width="3" height="31" fill="#00FF00"/>
<rect x="884" y="613" width="3" height="30" fill="#00FF00"/>
<rect x="900" y="614" width="3" height="29" fill="#00FF00"/>
<rect x="916" y="615" width="3" height="28" fill="#00FF00"/>
<rect x="932" y="621" width="3" height="22" fill="#00FF00"/>
<rect x="948" y="627" width="3" height="16" fill="#00FF00"/>
<rect x="964" y="628" width="3" height="15" fill="#00FF00"/>
<rect x="980" y="629" width="3" height="14" fill="#00FF00"/>
<rect x="996" y="630" width="3" height="13" fill="#00FF00"/>
<rect x="1012" y="631" width="3" height="12" fill="#00FF00"/>
<rect x="1028" y="634" width="3" height="9" fill="#00FF00"/>
<rect x="1044" y="631" width="3" height="12" fill="#00FF00"/>
<rect x="1060" y="626" width="3" height="17" fill="#00FF00"/>
<rect x="1076" y="625" width="3" height="18" fill="#00FF00"/>
<rect x="1092" y="624" width="3" height="19" fill="#00FF00"/>
<rect x="1108" y="625" width="3" height="18" fill="#00FF00"/>
<rect x="1124" y="624" width="3" height="19" fill="#00FF00"/>
<rect x="1140" y="622" width="3" height="21" fill="#00FF00"/>
<rect x="1156" y="635" width="3" height="8" fill="#00FF00"/>
<rect x="1172" y="638" width="3" height="5" fill="#00FF00"/>
<rect x="1188" y="641" width="3" height="2" fill="#00FF00"/>
<rect x="1204" y="643" width="3" height="2" fill="#00FF00"/>
<rect x="1220" y="643" width="3" height="2" fill="#00FF00"/>
<rect x="1236" y="643" width="3" height="1" fill="#00FF00"/>
<rect x="1252" y="643" width="3" height="1" fill="#00FF00"/>
<rect x="1268" y="643" width="3" height="6" fill="#00FF00"/>
<rect x="1284" y="643" width="3" height="9" fill="#00FF00"/>
<rect x="1300" y="643" width="3" height="16" fill="#00FF00"/>
<rect x="1316" y="643" width="3" height="23" fill="#00FF00"/>
<rect x="1332" y="643" width="3" height="29" fill="#00FF00"/>
<rect x="1348" y="643" width="3" height="36" fill="#00FF00"/>
<rect x="1364" y="643" width="3" height="44" fill="#00FF00"/>
<rect x="1380" y="643" width="3" height="49" fill="#00FF00"/>
<polyline points="5,640.9 21,640.3 37,639.5 53,637.3 69,635.3 85,633.5 101,630.5 117,627.3 133,624.5 149,622.3 165,619.6 181,617.6 197,617.0 213,617.0 229,618.0 245,620.0 261,623.0 277,626.0 293,629.0 309,631.9 325,636.9 341,639.5 357,640.9 373,640.9 389,640.9 405,640.9 421,640.9 437,640.9 453,640.9 469,640.9 485,643.3 501,645.9 517,649.9 533,654.8 549,659.8 565,665.4 581,671.4 597,677.4 613,683.4 629,688.7 645,691.7 661,694.7 677,694.7 693,694.7 709,693.1 725,691.1 741,686.8 757,682.8 773,677.8 789,670.8 805,662.8 821,655.8 837,648.9 853,642.9 869,636.5 885,629.9 901,625.9 917,622.5 933,619.0 949,618.4 965,618.3 981,619.0 997,621.0 1013,623.0 1029,625.0 1045,627.0 1061,628.3 1077,628.9 1093,628.9 1109,628.3 1125,627.9 1141,627.5 1157,627.9 1173,628.9 1189,629.5 1205,631.5 1221,633.3 1237,635.3 1253,637.3 1269,640.5 1285,643.3 1301,646.3 1317,649.2 1333,652.1 1349,656.3 1365,660.2 1381,665.8" fill="none" stroke="#FF0000" stroke-width="2"/>
</g>
<g shape-rendering="crispEdges">
<line x1="6" y1="729.5" x2="1612" y2="729.5" stroke="#000" stroke-width="1" stroke-dasharray="3,3"/>
<line x1="6" y1="757.5" x2="1612" y2="757.5" stroke="#000" stroke-width="1" stroke-dasharray="3,3"/>
<line x1="6" y1="790.5" x2="1612" y2="790.5" stroke="#000" stroke-width="1" stroke-dasharray="3,3"/>
</g>
<g clip-path="url(#crsi)" shape-rendering="crispEdges">
<polyline points="5,749.9 21,746.9 37,748.5 53,744.9 69,745.5 85,745.5 101,743.9 117,741.9 133,743.5 149,742.5 165,741.9 181,746.9 197,755.9 213,767.8 229,762.4 245,762.8 261,762.8 277,762.4 293,756.2 309,755.4 325,754.2 341,753.5 357,750.9 373,750.9 389,758.4 405,758.4 421,755.9 437,759.4 453,759.8 469,763.8 485,776.4 501,775.8 517,775.8 533,777.2 549,777.8 565,782.8 581,770.8 597,774.4 613,774.8 629,767.8 645,768.4 661,769.8 677,755.9 693,757.8 709,757.8 725,756.2 741,753.9 757,752.3 773,750.3 789,748.3 805,747.9 821,744.9 837,741.9 853,741.9 869,745.9 885,751.9 901,751.9 917,750.9 933,758.8 949,761.8 965,754.9 981,754.9 997,755.9 1013,755.9 1029,758.2 1045,748.9 1061,746.9 1077,751.9 1093,751.9 1109,751.9 1125,751.9 1141,747.9 1157,769.4 1173,758.8 1189,759.8 1205,759.9 1221,756.9 1237,756.5 1253,756.5 1269,762.8 1285,763.0 1301,767.4 1317,769.6 1333,769.8 1349,773.2 1365,775.8 1381,773.8" fill="none" stroke="#1E90FF" stroke-width="2"/>
</g>
<g font-family="'Liberation Sans', Arial, sans-serif" text-rendering="geometricPrecision">
<polygon points="8,32 15,32 11.5,36" fill="#000"/>
<text x="19.64" y="37" font-size="10" fill="#000" stroke="#000" stroke-width="0.12" textLength="43.28" lengthAdjust="spacingAndGlyphs">UKOil-,H4</text>
<text x="892.68" y="13" font-size="10" fill="#383838" stroke="#383838" stroke-width="0.12" textLength="14.14" lengthAdjust="spacingAndGlyphs">M1</text>
<text x="920.55" y="13" font-size="10" fill="#383838" stroke="#383838" stroke-width="0.12" textLength="14.60" lengthAdjust="spacingAndGlyphs">M5</text>
<text x="947.04" y="13" font-size="10" fill="#383838" stroke="#383838" stroke-width="0.12" textLength="18.59" lengthAdjust="spacingAndGlyphs">M15</text>
<text x="974.84" y="13" font-size="10" fill="#383838" stroke="#383838" stroke-width="0.12" textLength="18.70" lengthAdjust="spacingAndGlyphs">M30</text>
<text x="1005.56" y="13" font-size="10" fill="#383838" stroke="#383838" stroke-width="0.12" textLength="13.26" lengthAdjust="spacingAndGlyphs">H1</text>
<text x="1032.58" y="13" font-size="10" fill="#383838" stroke="#383838" stroke-width="0.12" textLength="14.31" lengthAdjust="spacingAndGlyphs">H4</text>
<text x="1061.67" y="13" font-size="10" fill="#383838" stroke="#383838" stroke-width="0.12" textLength="13.15" lengthAdjust="spacingAndGlyphs">D1</text>
<text x="1090.30" y="13" font-size="10" fill="#383838" stroke="#383838" stroke-width="0.12" textLength="14.00" lengthAdjust="spacingAndGlyphs">W1</text>
<text x="1115.54" y="13" font-size="10" fill="#383838" stroke="#383838" stroke-width="0.12" textLength="16.56" lengthAdjust="spacingAndGlyphs">MN</text>
<text x="67.96" y="37" font-size="10" fill="#000" stroke="#000" stroke-width="0.12" textLength="122.48" lengthAdjust="spacingAndGlyphs">71.773 72.052 71.765 72.047</text>
<text x="8.67" y="722" font-size="10" fill="#000" stroke="#000" stroke-width="0.12" textLength="68.19" lengthAdjust="spacingAndGlyphs">RSI(14) 32.3525</text>
<text x="1617.46" y="43" font-size="10" fill="#000" stroke="#000" stroke-width="0.12" textLength="28.91" lengthAdjust="spacingAndGlyphs">78.820</text>
<text x="1617.46" y="76" font-size="10" fill="#000" stroke="#000" stroke-width="0.12" textLength="28.91" lengthAdjust="spacingAndGlyphs">78.380</text>
<text x="1617.46" y="109" font-size="10" fill="#000" stroke="#000" stroke-width="0.12" textLength="28.91" lengthAdjust="spacingAndGlyphs">77.940</text>
<text x="1617.46" y="142" font-size="10" fill="#000" stroke="#000" stroke-width="0.12" textLength="28.91" lengthAdjust="spacingAndGlyphs">77.500</text>
<text x="1617.46" y="175" font-size="10" fill="#000" stroke="#000" stroke-width="0.12" textLength="28.91" lengthAdjust="spacingAndGlyphs">77.060</text>
<text x="1617.46" y="208" font-size="10" fill="#000" stroke="#000" stroke-width="0.12" textLength="28.91" lengthAdjust="spacingAndGlyphs">76.620</text>
<text x="1617.46" y="241" font-size="10" fill="#000" stroke="#000" stroke-width="0.12" textLength="28.91" lengthAdjust="spacingAndGlyphs">76.170</text>
<text x="1617.46" y="274" font-size="10" fill="#000" stroke="#000" stroke-width="0.12" textLength="28.91" lengthAdjust="spacingAndGlyphs">75.730</text>
<text x="1617.46" y="307" font-size="10" fill="#000" stroke="#000" stroke-width="0.12" textLength="28.91" lengthAdjust="spacingAndGlyphs">75.290</text>
<text x="1617.46" y="340" font-size="10" fill="#000" stroke="#000" stroke-width="0.12" textLength="28.91" lengthAdjust="spacingAndGlyphs">74.850</text>
<text x="1617.46" y="373" font-size="10" fill="#000" stroke="#000" stroke-width="0.12" textLength="28.91" lengthAdjust="spacingAndGlyphs">74.410</text>
<text x="1617.46" y="406" font-size="10" fill="#000" stroke="#000" stroke-width="0.12" textLength="28.91" lengthAdjust="spacingAndGlyphs">73.970</text>
<text x="1617.46" y="439" font-size="10" fill="#000" stroke="#000" stroke-width="0.12" textLength="28.91" lengthAdjust="spacingAndGlyphs">73.530</text>
<text x="1617.46" y="472" font-size="10" fill="#000" stroke="#000" stroke-width="0.12" textLength="28.91" lengthAdjust="spacingAndGlyphs">73.090</text>
<text x="1617.46" y="505" font-size="10" fill="#000" stroke="#000" stroke-width="0.12" textLength="28.91" lengthAdjust="spacingAndGlyphs">72.650</text>
<text x="1617.46" y="538" font-size="10" fill="#000" stroke="#000" stroke-width="0.12" textLength="28.91" lengthAdjust="spacingAndGlyphs">72.200</text>
<text x="1617.46" y="571" font-size="10" fill="#000" stroke="#000" stroke-width="0.12" textLength="28.91" lengthAdjust="spacingAndGlyphs">71.760</text>
<text x="1616.20" y="616" font-size="10" fill="#000" stroke="#000" stroke-width="0.12" textLength="28.25" lengthAdjust="spacingAndGlyphs">0.7292</text>
<text x="1616.20" y="647" font-size="10" fill="#000" stroke="#000" stroke-width="0.12" textLength="18.14" lengthAdjust="spacingAndGlyphs">0.00</text>
<text x="1615.24" y="704" font-size="10" fill="#000" stroke="#000" stroke-width="0.12" textLength="32.44" lengthAdjust="spacingAndGlyphs">-1.2466</text>
<text x="1615.22" y="720" font-size="10" fill="#000" stroke="#000" stroke-width="0.12" textLength="16.35" lengthAdjust="spacingAndGlyphs">100</text>
<text x="1613.89" y="733" font-size="10" fill="#000" stroke="#000" stroke-width="0.12" textLength="11.24" lengthAdjust="spacingAndGlyphs">80</text>
<text x="1613.89" y="761" font-size="10" fill="#000" stroke="#000" stroke-width="0.12" textLength="11.24" lengthAdjust="spacingAndGlyphs">50</text>
<text x="1614.77" y="794" font-size="10" fill="#000" stroke="#000" stroke-width="0.12" textLength="10.35" lengthAdjust="spacingAndGlyphs">15</text>
<text x="1615.70" y="801" font-size="10" fill="#000" stroke="#000" stroke-width="0.12" textLength="6.23" lengthAdjust="spacingAndGlyphs">0</text>
<text x="3.12" y="817" font-size="10" fill="#000" stroke="#000" stroke-width="0.12" textLength="56.49" lengthAdjust="spacingAndGlyphs">23 May 2023</text>
<text x="67.13" y="817" font-size="10" fill="#000" stroke="#000" stroke-width="0.12" textLength="59.07" lengthAdjust="spacingAndGlyphs">24 May 00:00</text>
<text x="131.13" y="817" font-size="10" fill="#000" stroke="#000" stroke-width="0.12" textLength="59.07" lengthAdjust="spacingAndGlyphs">24 May 16:00</text>
<text x="195.13" y="817" font-size="10" fill="#000" stroke="#000" stroke-width="0.12" textLength="59.07" lengthAdjust="spacingAndGlyphs">25 May 08:00</text>
<text x="259.13" y="817" font-size="10" fill="#000" stroke="#000" stroke-width="0.12" textLength="59.07" lengthAdjust="spacingAndGlyphs">26 May 00:00</text>
<text x="323.13" y="817" font-size="10" fill="#000" stroke="#000" stroke-width="0.12" textLength="59.07" lengthAdjust="spacingAndGlyphs">26 May 16:00</text>
<text x="386.92" y="817" font-size="10" fill="#000" stroke="#000" stroke-width="0.12" textLength="59.27" lengthAdjust="spacingAndGlyphs">29 May 08:00</text>
<text x="451.13" y="817" font-size="10" fill="#000" stroke="#000" stroke-width="0.12" textLength="59.07" lengthAdjust="spacingAndGlyphs">30 May 04:00</text>
<text x="515.13" y="817" font-size="10" fill="#000" stroke="#000" stroke-width="0.12" textLength="59.07" lengthAdjust="spacingAndGlyphs">30 May 20:00</text>
<text x="579.43" y="817" font-size="10" fill="#000" stroke="#000" stroke-width="0.12" textLength="58.76" lengthAdjust="spacingAndGlyphs">31 May 12:00</text>
<text x="643.87" y="817" font-size="10" fill="#000" stroke="#000" stroke-width="0.12" textLength="48.68" lengthAdjust="spacingAndGlyphs">1 Jun 04:00</text>
<text x="707.67" y="817" font-size="10" fill="#000" stroke="#000" stroke-width="0.12" textLength="48.78" lengthAdjust="spacingAndGlyphs">1 Jun 20:00</text>
<text x="771.67" y="817" font-size="10" fill="#000" stroke="#000" stroke-width="0.12" textLength="48.68" lengthAdjust="spacingAndGlyphs">2 Jun 12:00</text>
<text x="835.57" y="817" font-size="10" fill="#000" stroke="#000" stroke-width="0.12" textLength="48.68" lengthAdjust="spacingAndGlyphs">5 Jun 04:00</text>
<text x="899.57" y="817" font-size="10" fill="#000" stroke="#000" stroke-width="0.12" textLength="48.78" lengthAdjust="spacingAndGlyphs">5 Jun 20:00</text>
<text x="963.67" y="817" font-size="10" fill="#000" stroke="#000" stroke-width="0.12" textLength="48.68" lengthAdjust="spacingAndGlyphs">6 Jun 12:00</text>
<text x="1027.57" y="817" font-size="10" fill="#000" stroke="#000" stroke-width="0.12" textLength="48.68" lengthAdjust="spacingAndGlyphs">7 Jun 04:00</text>
<text x="1091.57" y="817" font-size="10" fill="#000" stroke="#000" stroke-width="0.12" textLength="48.78" lengthAdjust="spacingAndGlyphs">7 Jun 20:00</text>
<text x="1155.67" y="817" font-size="10" fill="#000" stroke="#000" stroke-width="0.12" textLength="48.68" lengthAdjust="spacingAndGlyphs">8 Jun 12:00</text>
<text x="1220.50" y="817" font-size="10" fill="#000" stroke="#000" stroke-width="0.12" textLength="47.74" lengthAdjust="spacingAndGlyphs">9 Jun 04:00</text>
<text x="1284.50" y="817" font-size="10" fill="#000" stroke="#000" stroke-width="0.12" textLength="47.84" lengthAdjust="spacingAndGlyphs">9 Jun 20:00</text>
<text x="1347.89" y="817" font-size="10" fill="#000" stroke="#000" stroke-width="0.12" textLength="52.55" lengthAdjust="spacingAndGlyphs">12 Jun 12:00</text>
<rect x="1614" y="454" width="36" height="11" fill="#FF0000"/>
<text x="1616.95" y="463" font-size="10" fill="#FFFFFF" stroke="#FFFFFF" stroke-width="0.12" textLength="29.01" lengthAdjust="spacingAndGlyphs">73.198</text>
<rect x="1614" y="485" width="36" height="11" fill="#FF0000"/>
<text x="1616.95" y="494" font-size="10" fill="#FFFFFF" stroke="#FFFFFF" stroke-width="0.12" textLength="29.01" lengthAdjust="spacingAndGlyphs">72.785</text>
<rect x="1614" y="519" width="36" height="11" fill="#FF8C00"/>
<text x="1616.95" y="528" font-size="10" fill="#FFFFFF" stroke="#FFFFFF" stroke-width="0.12" textLength="29.01" lengthAdjust="spacingAndGlyphs">72.331</text>
<rect x="1614" y="541" width="36" height="11" fill="#000000"/>
<text x="1616.95" y="550" font-size="10" fill="#FFFFFF" stroke="#FFFFFF" stroke-width="0.12" textLength="29.01" lengthAdjust="spacingAndGlyphs">72.047</text>
<rect x="1614" y="573" width="36" height="11" fill="#0000FF"/>
<text x="1616.95" y="582" font-size="10" fill="#FFFFFF" stroke="#FFFFFF" stroke-width="0.12" textLength="29.01" lengthAdjust="spacingAndGlyphs">71.610</text>
<rect x="1614" y="596" width="36" height="11" fill="#0000FF"/>
<text x="1616.95" y="605" font-size="10" fill="#FFFFFF" stroke="#FFFFFF" stroke-width="0.12" textLength="29.01" lengthAdjust="spacingAndGlyphs">71.303</text>
</g>
</svg>
</body></html>
